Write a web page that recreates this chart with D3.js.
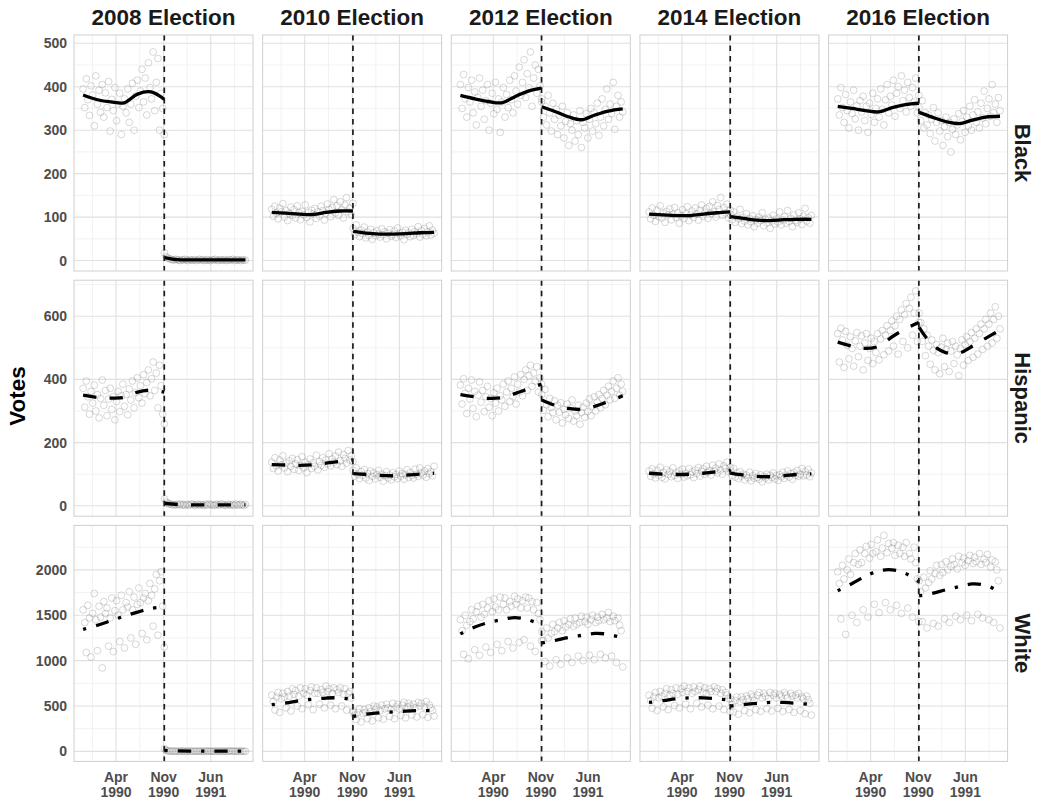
<!DOCTYPE html>
<html>
<head>
<meta charset="utf-8">
<script src="https://cdn.jsdelivr.net/npm/d3@7"></script>
<style>
  body { margin: 0; background: #fff; }
  text { font-family: "Liberation Sans", Arial, Helvetica, sans-serif; }
</style>
</head>
<body>
<svg id="chart" width="1040" height="802"></svg>
<script>
// ---- Facets ----
const elections = ["2008 Election", "2010 Election", "2012 Election", "2014 Election", "2016 Election"];
const groups = ["Black", "Hispanic", "White"];

// ---- Axis ticks ----
const yTicksBlack = [0, 100, 200, 300, 400, 500];
const yTicksHispanic = [0, 200, 400, 600];
const yTicksWhite = [0, 500, 1000, 1500, 2000];
const xTickDates = ["1990-04-01", "1990-11-01", "1991-06-01"];
const xTickLabels = [["Apr", "1990"], ["Nov", "1990"], ["Jun", "1991"]];
const electionDay = "1990-11-04";

// Weekly vote counts through the year before (pre) and after (post) each election,
// one row per election (2008, 2010, 2012, 2014, 2016).
const blackPre = [
  [395, 352, 418, 370, 334, 402, 381, 310, 425, 360, 392, 341, 405,
   330, 386, 352, 412, 298, 371, 345, 398, 322, 360, 385, 290, 355,
   372, 340, 395, 318, 360, 408, 300, 378, 415, 352, 390, 440, 365,
   420, 335, 455, 398, 372, 480, 345, 410, 465, 300, 385, 350, 290],
  [118, 102, 125, 109, 96, 121, 112, 131, 100, 115, 92, 108, 123,
   104, 117, 98, 126, 110, 94, 113, 105, 128, 99, 111, 89, 116,
   107, 120, 97, 112, 103, 125, 115, 93, 109, 130, 118, 101, 122, 140,
   110, 126, 104, 135, 117, 98, 128, 145, 112, 121, 106, 132],
  [405, 350, 428, 372, 330, 398, 365, 415, 340, 388, 312, 375, 420,
   355, 392, 325, 368, 405, 300, 362, 385, 338, 410, 348, 372, 295,
   365, 398, 330, 382, 352, 415, 370, 340, 425, 390, 360, 445, 380, 410,
   462, 375, 430, 398, 480, 355, 420, 450, 385, 440, 402, 365],
  [112, 96, 121, 104, 90, 116, 101, 126, 98, 109, 88, 113, 105,
   119, 94, 106, 122, 99, 110, 86, 103, 117, 97, 108, 124, 92,
   105, 114, 99, 121, 107, 93, 116, 128, 102, 111, 120, 97, 125, 108,
   135, 112, 100, 127, 118, 145, 104, 122, 110, 130, 98, 116],
  [372, 335, 398, 352, 318, 382, 345, 305, 365, 338, 392, 326, 356,
   300, 368, 342, 378, 322, 355, 295, 362, 336, 385, 318, 350, 372,
   330, 395, 348, 312, 370, 405, 340, 378, 358, 415, 332, 385, 400, 350,
   425, 368, 392, 342, 410, 375, 355, 398, 365, 420, 340, 380]
];
const blackPost = [
  [18, 9, 6, 4, 3, 2, 1, 3, 2, 1, 0, 2, 1, 3, 1, 0, 2, 1, 1, 2, 0, 1, 3, 1, 2, 0,
   1, 2, 1, 0, 2, 1, 3, 1, 0, 2, 1, 1, 2, 0, 1, 2, 1, 3, 0, 1, 2, 1, 0, 2, 1, 1],
  [74, 60, 82, 65, 55, 70, 62, 77, 52, 66, 58, 72, 49,
   64, 57, 69, 61, 54, 73, 59, 66, 50, 63, 71, 56, 60,
   68, 53, 75, 62, 57, 65, 48, 70, 60, 64, 55, 72, 58, 67,
   62, 78, 54, 69, 61, 74, 57, 66, 80, 59, 70, 63],
  [372, 330, 355, 312, 380, 340, 298, 362, 325, 348, 290, 335, 310,
   355, 282, 320, 340, 265, 315, 300, 335, 275, 322, 290, 345, 260,
   318, 305, 338, 282, 325, 350, 298, 340, 315, 362, 288, 330, 372, 310,
   348, 395, 325, 360, 338, 410, 302, 355, 380, 330, 365, 342],
  [106, 94, 112, 88, 101, 96, 118, 85, 99, 91, 108, 82, 97,
   89, 103, 78, 94, 86, 100, 92, 110, 80, 95, 87, 98, 74,
   91, 104, 84, 96, 89, 112, 82, 93, 101, 86, 115, 90, 97, 78,
   105, 92, 88, 110, 96, 83, 102, 120, 91, 99, 86, 104],
  [352, 322, 368, 305, 340, 312, 335, 292, 325, 352, 275, 318, 340,
   298, 322, 265, 308, 330, 285, 318, 250, 302, 326, 290, 312, 338,
   278, 320, 345, 295, 330, 310, 355, 300, 335, 370, 318, 342, 305, 362,
   328, 390, 315, 350, 372, 332, 405, 340, 360, 318, 375, 345]
];
const hispanicPre = [
  [372, 312, 395, 345, 290, 362, 325, 382, 300, 352, 278, 340, 398,
   318, 365, 285, 338, 372, 305, 345, 272, 330, 362, 298, 348, 385,
   315, 352, 288, 370, 335, 395, 310, 358, 405, 342, 380, 325, 415, 355,
   390, 430, 348, 402, 455, 365, 420, 310, 445, 380, 290, 260],
  [138, 118, 152, 126, 110, 145, 130, 158, 120, 135, 108, 142, 125,
   150, 115, 132, 146, 112, 128, 155, 120, 138, 105, 130, 148, 118,
   136, 125, 160, 114, 140, 128, 152, 122, 145, 133, 165, 126, 148, 138,
   158, 130, 170, 142, 125, 162, 150, 135, 175, 145, 158, 140],
  [382, 322, 402, 356, 292, 372, 338, 398, 308, 362, 282, 350, 392,
   328, 365, 298, 345, 378, 312, 340, 285, 358, 325, 372, 300, 348,
   335, 385, 315, 360, 395, 330, 372, 345, 408, 322, 385, 360, 415, 348,
   400, 430, 365, 412, 445, 378, 420, 395, 440, 360, 405, 385],
  [110, 93, 117, 101, 88, 112, 97, 122, 90, 105, 85, 114, 99,
   108, 92, 120, 96, 104, 87, 110, 100, 116, 91, 103, 95, 118,
   98, 107, 89, 113, 102, 121, 94, 109, 117, 100, 125, 106, 112, 97,
   128, 110, 119, 104, 132, 113, 100, 126, 118, 138, 108, 122],
  [545, 455, 562, 525, 438, 552, 508, 465, 535, 498, 442, 522, 548,
   472, 505, 538, 430, 515, 545, 460, 498, 530, 450, 520, 485, 545,
   462, 528, 555, 478, 540, 570, 490, 555, 585, 505, 570, 600, 480, 590,
   620, 520, 605, 640, 500, 625, 660, 540, 610, 680, 520, 580]
];
const hispanicPost = [
  [22, 12, 8, 5, 6, 3, 4, 2, 5, 3, 6, 2, 4, 1, 5, 3, 2, 6, 4, 1, 3, 5, 2, 4, 3, 1,
   5, 2, 6, 3, 4, 1, 3, 5, 2, 4, 6, 2, 3, 1, 5, 3, 2, 4, 1, 6, 3, 2, 5, 3, 1, 4],
  [112, 94, 120, 99, 86, 108, 96, 115, 88, 102, 80, 110, 93,
   104, 85, 98, 112, 90, 100, 78, 95, 108, 88, 97, 82, 105,
   92, 99, 86, 110, 94, 102, 84, 98, 114, 90, 105, 96, 88, 116,
   100, 93, 120, 104, 97, 110, 90, 118, 102, 108, 95, 125],
  [352, 302, 368, 320, 282, 340, 312, 295, 332, 272, 318, 296, 326,
   262, 305, 288, 322, 276, 310, 335, 268, 300, 285, 318, 258, 295,
   312, 280, 325, 298, 338, 285, 315, 345, 300, 328, 352, 310, 340, 365,
   320, 350, 378, 335, 362, 395, 340, 372, 405, 350, 385, 362],
  [112, 96, 118, 91, 104, 86, 108, 94, 100, 82, 97, 89, 106,
   79, 95, 87, 102, 90, 84, 98, 76, 93, 88, 100, 82, 96,
   90, 104, 85, 95, 80, 99, 92, 106, 87, 97, 110, 91, 102, 84,
   105, 96, 112, 93, 100, 118, 95, 108, 98, 115, 92, 104],
  [610, 580, 520, 560, 475, 540, 505, 448, 525, 492, 430, 510, 485,
   418, 502, 530, 440, 495, 515, 425, 490, 520, 450, 505, 478, 412,
   498, 525, 445, 510, 535, 460, 520, 548, 470, 530, 560, 480, 545, 575,
   495, 560, 590, 505, 575, 610, 515, 590, 630, 530, 600, 560]
];
const whitePre = [
  [1560, 1420, 1090, 1610, 1470, 1040, 1520, 1740, 1450, 1110, 1600, 1480, 920, 1650,
   1520, 1580, 1160, 1470, 1690, 1100, 1550, 1660, 1500, 1210, 1720, 1560, 1140, 1640,
   1590, 1760, 1250, 1560, 1700, 1180, 1620, 1800, 1640, 1300, 1690, 1740, 1230, 1660,
   1850, 1720, 1380, 1790, 1950, 1280, 1880, 1980, 1600, 1150],
  [620, 550, 455, 600, 650, 430, 580, 640, 600, 480, 660, 610, 445, 690,
   630, 670, 500, 610, 700, 470, 640, 690, 620, 515, 670, 710, 460, 640,
   700, 640, 520, 680, 650, 480, 720, 660, 690, 510, 640, 700, 470, 680,
   650, 700, 500, 630, 690, 455, 640, 660, 590, 430],
  [1450, 1330, 1070, 1500, 1390, 1020, 1430, 1560, 1460, 1120, 1540, 1600, 1060, 1480,
   1620, 1510, 1150, 1580, 1660, 1090, 1540, 1680, 1590, 1180, 1560, 1700, 1110, 1620,
   1690, 1560, 1210, 1650, 1600, 1140, 1710, 1620, 1680, 1200, 1580, 1660, 1230, 1700,
   1580, 1690, 1160, 1650, 1560, 1100, 1640, 1520, 1450, 1220],
  [620, 560, 475, 600, 650, 450, 590, 660, 610, 490, 640, 690, 460, 620,
   680, 640, 505, 700, 630, 480, 690, 650, 720, 520, 660, 700, 470, 640,
   710, 660, 530, 680, 720, 490, 650, 700, 640, 510, 690, 660, 470, 710,
   660, 690, 500, 640, 680, 460, 650, 620, 580, 440],
  [1980, 1850, 1460, 2050, 1900, 1290, 2000, 2120, 1950, 1500, 2080, 2180, 1420, 2060,
   2220, 2080, 1560, 2180, 2260, 1480, 2130, 2280, 2180, 1620, 2200, 2330, 1530, 2150,
   2240, 2380, 1640, 2190, 2290, 1560, 2240, 2300, 2160, 1610, 2270, 2180, 1520, 2250,
   2150, 2300, 1580, 2180, 2120, 1480, 2250, 2080, 1900, 1430]
];
const whitePost = [
  [30, 12, 6, 4, 3, 5, 2, 3, 1, 4, 2, 5, 3, 1, 2, 4, 3, 2, 5, 1, 3, 2, 4, 3, 1, 2,
   5, 3, 2, 4, 1, 3, 2, 5, 3, 1, 4, 2, 3, 1, 2, 4, 3, 5, 2, 1, 3, 4, 2, 3, 1, 2],
  [450, 400, 350, 430, 470, 325, 420, 460, 430, 360, 480, 440, 335, 500,
   460, 490, 370, 450, 510, 355, 470, 520, 480, 385, 460, 530, 360, 490,
   520, 470, 395, 510, 540, 370, 490, 530, 500, 400, 520, 480, 380, 540,
   500, 530, 405, 490, 550, 375, 510, 480, 450, 390],
  [1320, 1220, 990, 1360, 1250, 940, 1300, 1400, 1320, 1010, 1360, 1420, 960, 1330,
   1440, 1370, 1030, 1400, 1460, 980, 1380, 1470, 1400, 1050, 1420, 1490, 1000, 1430,
   1480, 1400, 1060, 1450, 1500, 1010, 1420, 1480, 1440, 1070, 1510, 1450, 1030, 1470,
   1530, 1430, 1050, 1490, 1440, 980, 1470, 1390, 1330, 930],
  [580, 520, 435, 560, 600, 410, 550, 600, 570, 450, 610, 580, 425, 630,
   600, 560, 460, 620, 650, 440, 590, 640, 610, 470, 580, 650, 445, 620,
   640, 590, 475, 630, 610, 440, 650, 620, 590, 460, 640, 610, 430, 620,
   590, 640, 450, 600, 580, 415, 610, 570, 530, 400],
  [1880, 1760, 1430, 1920, 1800, 1360, 1860, 1990, 1900, 1410, 1960, 2050, 1380, 1940,
   2060, 1970, 1460, 2090, 2000, 1420, 2040, 2120, 2060, 1490, 2010, 2150, 1450, 2080,
   2130, 2050, 1500, 2100, 2160, 1440, 2070, 2140, 2090, 1510, 2180, 2060, 1470, 2120,
   2080, 2170, 1450, 2030, 2110, 1420, 2090, 2000, 1880, 1360]
];

// Smoothed trend, evaluated at these day offsets from election day.
const fitDaysPre = [-365, -300, -240, -180, -120, -60, 0];
const fitDaysPost = [1, 60, 120, 180, 240, 300, 365];
const blackFitPre = [
  [381, 370, 365, 363, 383, 388, 371],
  [111, 109, 107, 106, 111, 114, 114],
  [380, 372, 366, 363, 377, 390, 397],
  [107, 105, 103.5, 103.5, 107, 110, 112],
  [355, 350, 345, 342, 352, 359, 362]
];
const blackFitPost = [
  [7, 2, 1.5, 1.5, 1.5, 1.5, 1.5],
  [67, 63, 61, 61, 62, 64, 65],
  [354, 343, 331, 324, 335, 344, 349],
  [101, 97, 93, 92, 94, 95, 95],
  [341, 330, 320, 315, 323, 330, 332]
];
const hispanicFitPre = [
  [350, 343, 341, 343, 360, 366, 360],
  [130, 129, 128, 130, 135, 140, 145],
  [352, 345, 340, 342, 355, 370, 385],
  [103, 100, 99, 100, 103, 108, 112],
  [518, 505, 498, 505, 535, 560, 580]
];
const hispanicFitPost = [
  [8, 4, 3, 3, 3, 3, 3],
  [102, 99, 96, 95, 97, 100, 103],
  [335, 318, 308, 305, 315, 330, 348],
  [103, 97, 93, 92, 95, 99, 101],
  [565, 510, 485, 483, 505, 530, 556]
];
const whiteFitPre = [
  [1345, 1390, 1440, 1490, 1535, 1575, 1590],
  [515, 535, 560, 575, 588, 590, 568],
  [1295, 1370, 1420, 1450, 1475, 1450, 1395],
  [540, 560, 580, 590, 590, 580, 565],
  [1770, 1850, 1930, 1990, 2000, 1960, 1870]
];
const whiteFitPost = [
  [10, 5, 3, 3, 3, 3, 3],
  [385, 410, 425, 435, 445, 450, 450],
  [1195, 1222, 1255, 1278, 1300, 1290, 1250],
  [500, 515, 530, 540, 540, 530, 515],
  [1715, 1740, 1780, 1815, 1845, 1830, 1760]
];

// ---- Assemble per-row tables ----
const rows = [
  { name: groups[0], pre: blackPre, post: blackPost, fitPre: blackFitPre, fitPost: blackFitPost,
    domain: [-24, 519], ticks: yTicksBlack, dash: null },
  { name: groups[1], pre: hispanicPre, post: hispanicPost, fitPre: hispanicFitPre, fitPost: hispanicFitPost,
    domain: [-33, 714], ticks: yTicksHispanic, dash: "13.3,13.3" },
  { name: groups[2], pre: whitePre, post: whitePost, fitPre: whiteFitPre, fitPost: whiteFitPost,
    domain: [-110, 2490], ticks: yTicksWhite, dash: "3.3,10,13.3,10" }
];

// ---- Layout ----
const panelW = 179, panelH = 236;
const left0 = 74, top0 = 35;
const colStep = 188.65, rowStep = 245.2;

const parse = d3.timeParse("%Y-%m-%d");
const eDay = parse(electionDay);
const dayToDate = d => new Date(eDay.getTime() + d * 864e5);

const x = d3.scaleTime()
  .domain([parse("1989-09-24"), parse("1991-12-08")])
  .range([0, panelW]);

const majorDates = xTickDates.map(parse);
const extMajors = [parse("1989-09-01"), ...majorDates, parse("1992-01-01")];
const minorDates = d3.range(extMajors.length - 1)
  .map(i => new Date((extMajors[i].getTime() + extMajors[i + 1].getTime()) / 2));

const svg = d3.select("#chart");
const tickColor = "#4d4d4d";

const line = (yS) => d3.line()
  .x(d => x(d.date))
  .y(d => yS(d.v))
  .curve(d3.curveCatmullRom.alpha(0.5));

rows.forEach((row, r) => {
  const y = d3.scaleLinear().domain(row.domain).range([panelH, 0]);
  const step = row.ticks[1] - row.ticks[0];
  const minorY = row.ticks.map(t => t + step / 2).filter(v => v < row.domain[1]);

  elections.forEach((el, c) => {
    const g = svg.append("g")
      .attr("transform", `translate(${left0 + c * colStep},${top0 + r * rowStep})`);

    // grid
    g.append("g").selectAll("line").data(minorDates).join("line")
      .attr("x1", d => x(d)).attr("x2", d => x(d)).attr("y1", 0).attr("y2", panelH)
      .attr("stroke", "#ececec").attr("stroke-width", 0.7);
    g.append("g").selectAll("line").data(minorY).join("line")
      .attr("x1", 0).attr("x2", panelW).attr("y1", d => y(d)).attr("y2", d => y(d))
      .attr("stroke", "#ececec").attr("stroke-width", 0.7);
    g.append("g").selectAll("line").data(majorDates).join("line")
      .attr("x1", d => x(d)).attr("x2", d => x(d)).attr("y1", 0).attr("y2", panelH)
      .attr("stroke", "#e0e0e0").attr("stroke-width", 1.1);
    g.append("g").selectAll("line").data(row.ticks).join("line")
      .attr("x1", 0).attr("x2", panelW).attr("y1", d => y(d)).attr("y2", d => y(d))
      .attr("stroke", "#e0e0e0").attr("stroke-width", 1.1);

    // observations
    const preVals = row.pre[c], postVals = row.post[c];
    const pts = [
      ...preVals.map((v, i) => ({ date: dayToDate(-365 + i * 365 / (preVals.length - 1)), v })),
      ...postVals.map((v, i) => ({ date: dayToDate(1 + i * 364 / (postVals.length - 1)), v }))
    ];
    g.append("g").selectAll("circle").data(pts).join("circle")
      .attr("cx", d => x(d.date)).attr("cy", d => y(d.v)).attr("r", 3.4)
      .attr("fill", "none").attr("stroke", "#5e5e5e").attr("stroke-opacity", 0.3)
      .attr("stroke-width", 0.8);

    // smoothed trend, one segment on each side of the election
    [[fitDaysPre, row.fitPre[c]], [fitDaysPost, row.fitPost[c]]].forEach(([days, vals]) => {
      const seg = days.map((d, i) => ({ date: dayToDate(d), v: vals[i] }));
      g.append("path").datum(seg)
        .attr("d", line(y))
        .attr("fill", "none").attr("stroke", "#000").attr("stroke-width", 3.3)
        .attr("stroke-linecap", "butt")
        .attr("stroke-dasharray", row.dash);
    });

    // election day marker
    g.append("line")
      .attr("x1", x(eDay)).attr("x2", x(eDay)).attr("y1", 0).attr("y2", panelH)
      .attr("stroke", "#1a1a1a").attr("stroke-width", 1.7).attr("stroke-dasharray", "5.5,5");

    // border
    g.append("rect").attr("width", panelW).attr("height", panelH)
      .attr("fill", "none").attr("stroke", "#cfcfcf").attr("stroke-width", 1);

    // y axis labels
    if (c === 0) {
      const ax = g.append("g").call(
        d3.axisLeft(y).tickValues(row.ticks).tickFormat(d3.format("d")).tickSize(0).tickPadding(7));
      ax.select(".domain").remove();
      ax.selectAll("text")
        .attr("fill", tickColor).style("font-size", "14px").style("font-weight", "bold")
        .style("font-family", '"Liberation Sans", Arial, sans-serif');
    }

    // x axis labels
    if (r === rows.length - 1) {
      const lab = g.append("g").selectAll("text").data(majorDates).join("text")
        .attr("text-anchor", "middle")
        .attr("fill", tickColor).style("font-size", "14px").style("font-weight", "bold");
      lab.each(function (d, i) {
        const t = d3.select(this);
        t.append("tspan").attr("x", x(d)).attr("y", panelH + 20.5).text(xTickLabels[i][0]);
        t.append("tspan").attr("x", x(d)).attr("y", panelH + 35.5).text(xTickLabels[i][1]);
      });
    }

    // column strip
    if (r === 0) {
      svg.append("text")
        .attr("x", left0 + c * colStep + panelW / 2).attr("y", 25)
        .attr("text-anchor", "middle")
        .style("font-size", "22.5px").style("font-weight", "bold").attr("fill", "#1a1a1a")
        .text(el);
    }
  });

  // row strip
  svg.append("text")
    .attr("transform", `translate(1015,${top0 + r * rowStep + panelH / 2}) rotate(90)`)
    .attr("text-anchor", "middle")
    .style("font-size", "22px").style("font-weight", "bold").attr("fill", "#1a1a1a")
    .text(row.name);
});

// y axis title
svg.append("text")
  .attr("transform", "translate(25,396) rotate(-90)")
  .attr("text-anchor", "middle")
  .style("font-size", "22.5px").style("font-weight", "bold").attr("fill", "#000")
  .text("Votes");
</script>
</body>
</html>
